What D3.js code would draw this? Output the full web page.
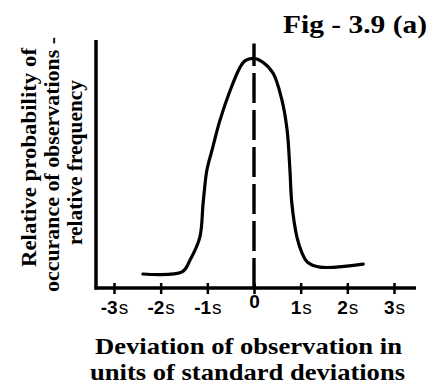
<!DOCTYPE html>
<html>
<head>
<meta charset="utf-8">
<script src="https://cdn.jsdelivr.net/npm/d3@7"></script>
<style>
  html, body { margin: 0; padding: 0; background: #fff; }
  svg { display: block; }
</style>
</head>
<body>
<svg id="chart" width="432" height="387"></svg>
<script>
// Deviation from the mean, in standard deviations
const deviation = [-2.38, -1.54, -1.37, -1.16, -1.09, -1.01, -0.90, -0.73, -0.51, -0.30, -0.19, 0.00,
                   0.19, 0.41, 0.60, 0.71, 0.77, 0.81, 0.92, 1.03, 1.14, 1.41, 2.34];
// Relative frequency of observations (peak = 1)
const relFrequency = [0.061, 0.070, 0.122, 0.222, 0.370, 0.513, 0.600, 0.730, 0.861, 0.961, 0.990, 1.000,
                      0.983, 0.935, 0.817, 0.687, 0.513, 0.370, 0.222, 0.152, 0.113, 0.091, 0.104];

// Axis ticks and their labels
const tickValues = [-3, -2, -1, 0, 1, 2, 3];
const tickNumbers = ["-3", "-2", "-1", "0", "1", "2", "3"];
const tickUnits = ["s", "s", "s", "", "s", "s", "s"];

const title = "Fig - 3.9 (a)";
const yLabelLines = ["Relative probability of", "occurance of observations -", "relative frequency"];
const xLabelLines = ["Deviation of observation in", "units of standard deviations"];

const svg = d3.select("#chart");
const frame = { left: 96, right: 416, top: 40, bottom: 288 };

const x = d3.scaleLinear().domain([-3, 3]).range([114, 394]);
const y = d3.scaleLinear().domain([0, 1.08]).range([frame.bottom, frame.top]);

const serif = "'Liberation Serif', 'Times New Roman', serif";
const sans = "'Liberation Sans', Arial, sans-serif";

// Title
svg.append("text")
  .attr("x", 283).attr("y", 33)
  .attr("font-family", serif).attr("font-weight", "bold")
  .attr("font-size", 26)
  .attr("textLength", 144).attr("lengthAdjust", "spacingAndGlyphs")
  .text(title);

// Axis lines
svg.append("line")
  .attr("x1", frame.left).attr("x2", frame.left)
  .attr("y1", frame.top).attr("y2", frame.bottom + 1.5)
  .attr("stroke", "#000").attr("stroke-width", 3.5);
svg.append("line")
  .attr("x1", frame.left - 1.5).attr("x2", frame.right)
  .attr("y1", frame.bottom).attr("y2", frame.bottom)
  .attr("stroke", "#000").attr("stroke-width", 3.5);

// Bottom axis ticks and labels
const xAxis = d3.axisBottom(x)
  .tickValues(tickValues)
  .tickFormat(() => "")
  .tickSizeOuter(0);
const gx = svg.append("g")
  .attr("transform", `translate(0,${frame.bottom})`)
  .call(xAxis);
gx.select(".domain").remove();
gx.selectAll(".tick line")
  .attr("y1", -5).attr("y2", 6)
  .attr("stroke", "#000").attr("stroke-width", 2.5);
gx.selectAll(".tick text").remove();
gx.selectAll(".tick").each(function (d, i) {
  const t = d3.select(this).append("text")
    .attr("y", d === 0 ? 20 : 26)
    .attr("text-anchor", "middle")
    .attr("font-family", sans)
    .attr("font-size", 19)
    .attr("fill", "#000");
  t.append("tspan").attr("font-weight", "bold").text(tickNumbers[i]);
  if (tickUnits[i]) t.append("tspan").attr("font-weight", "normal").attr("dx", 1).text(tickUnits[i]);
});

// Dashed line at the mean
svg.append("line")
  .attr("x1", x(0)).attr("x2", x(0))
  .attr("y1", y(0)).attr("y2", y(1.065))
  .attr("stroke", "#000").attr("stroke-width", 3.4)
  .attr("stroke-dasharray", "30,7");

// Frequency curve
const points = deviation.map((d, i) => [d, relFrequency[i]]);
const line = d3.line()
  .x(d => x(d[0]))
  .y(d => y(d[1]))
  .curve(d3.curveCatmullRom.alpha(0.5));
svg.append("path")
  .datum(points)
  .attr("d", line)
  .attr("fill", "none")
  .attr("stroke", "#000")
  .attr("stroke-width", 3.2)
  .attr("stroke-linejoin", "round")
  .attr("stroke-linecap", "round");

// Y axis label (three rotated lines)
const yLab = [
  { base: 36, center: 157.5, len: 219 },
  { base: 59, center: 164.5, len: 255 },
  { base: 82, center: 162.5, len: 165 }
];
yLabelLines.forEach((s, i) => {
  svg.append("text")
    .attr("transform", `translate(${yLab[i].base},${yLab[i].center}) rotate(-90)`)
    .attr("text-anchor", "middle")
    .attr("font-family", serif).attr("font-weight", "bold")
    .attr("font-size", 21)
    .attr("textLength", yLab[i].len).attr("lengthAdjust", "spacingAndGlyphs")
    .text(s);
});

// X axis label (two lines)
const xLab = [
  { base: 354, center: 248.5, len: 307 },
  { base: 380, center: 247.5, len: 315 }
];
xLabelLines.forEach((s, i) => {
  svg.append("text")
    .attr("x", xLab[i].center).attr("y", xLab[i].base)
    .attr("text-anchor", "middle")
    .attr("font-family", serif).attr("font-weight", "bold")
    .attr("font-size", 24)
    .attr("textLength", xLab[i].len).attr("lengthAdjust", "spacingAndGlyphs")
    .text(s);
});
</script>
</body>
</html>
